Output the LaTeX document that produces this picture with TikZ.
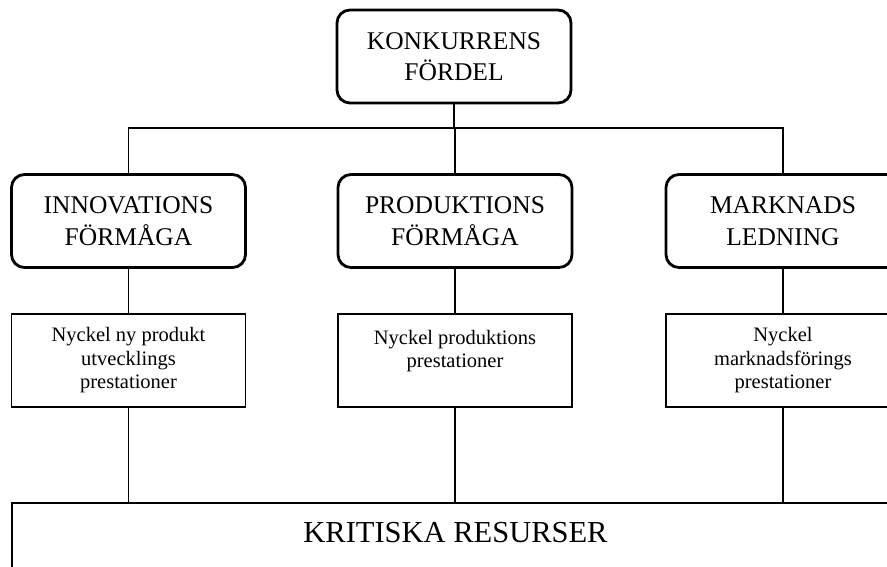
\documentclass[tikz,border=0pt]{standalone}
\usepackage{fontspec}
\setmainfont{Liberation Serif}
\begin{document}
\begin{tikzpicture}[x=1pt, y=-1pt,
  capbox/.style={draw=black, line width=2.8pt, rounded corners=13pt, minimum width=234pt,
    minimum height=93pt, align=center, inner sep=0pt, font=\fontsize{25.5}{31.5}\selectfont},
  keybox/.style={draw=black, line width=1.7pt, minimum width=234pt, minimum height=93pt,
    align=center, inner sep=0pt, font=\fontsize{20.5}{23.5}\selectfont},
  link/.style={draw=black, line width=1.2pt}]
\useasboundingbox (0,0) rectangle (887,567);
\clip (0,0) rectangle (887,567);
\node[capbox] (kf) at (454,56.5) {KONKURRENS\\FÖRDEL};
\node[capbox] (inn) at (128.5,221) {INNOVATIONS\\FÖRMÅGA};
\node[capbox] (prod) at (455,221) {PRODUKTIONS\\FÖRMÅGA};
\node[capbox] (mark) at (783,221) {MARKNADS\\LEDNING};
\node[keybox] (innkey) at (128.5,360.5) {Nyckel ny produkt\\utvecklings\\prestationer};
\node[keybox] (prodkey) at (455,360.5) {Nyckel produktions\\prestationer\\\mbox{}};
\node[keybox] (markkey) at (783,360.5) {Nyckel\\marknadsförings\\prestationer};
\node[draw=black, line width=1.7pt, minimum width=889pt, minimum height=110pt,
  anchor=north west, inner sep=0pt] (res) at (11,502) {};
\node[font=\fontsize{30.5}{36}\selectfont, anchor=base] (restext) at (455.5,542) {KRITISKA RESURSER};
\coordinate (bus) at (454,128);
\draw[link] (kf.south) -- (bus);
\draw[link] (inn.north) -- (inn.north |- bus) -- (mark.north |- bus) -- (mark.north);
\draw[link] (prod.north) -- (prod.north |- bus);
\draw[link] (inn.south) -- (innkey.north);
\draw[link] (prod.south) -- (prodkey.north);
\draw[link] (mark.south) -- (markkey.north);
\draw[link] (innkey.south) -- (innkey.south |- res.north);
\draw[link] (prodkey.south) -- (prodkey.south |- res.north);
\draw[link] (markkey.south) -- (markkey.south |- res.north);
\end{tikzpicture}
\end{document}
